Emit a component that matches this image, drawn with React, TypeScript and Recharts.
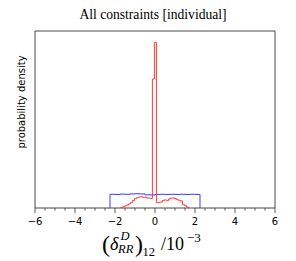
import { LineChart, Line, XAxis, YAxis, ReferenceArea } from "recharts";

// histogram bin edges (units of 1e-3) and densities
const RED_EDGES = [
  -1.73, -1.63, -1.53, -1.43, -1.33, -1.23, -1.13, -1.03, -0.93, -0.83, -0.73, -0.63,
  -0.53, -0.43, -0.33, -0.23, -0.13, -0.03, 0.07, 0.17, 0.27, 0.37, 0.47, 0.57, 0.67,
  0.77, 0.87, 0.97, 1.07, 1.17, 1.27, 1.37, 1.47, 1.57, 1.67,
];
const RED_VALUES = [
  0.3, 0.7, 1.2, 1.8, 2.4, 3.2, 4.4, 5.6, 6.2, 6.6, 6.8, 6.5, 6.6, 6.1, 6.0, 5.8, 78, 100,
  3.2, 3.4, 3.6, 4.6, 4.9, 4.4, 5.4, 6.0, 6.1, 5.7, 5.0, 4.7, 4.3, 2.0, 1.6, 0.6,
];

const BLUE_EDGES = [
  -2.25, -2.0, -1.75, -1.5, -1.25, -1.0, -0.75, -0.5, -0.25, 0, 0.25, 0.5, 0.75, 1.0,
  1.25, 1.5, 1.75, 2.0, 2.25,
];
const BLUE_VALUES = [
  8.3, 8.2, 8.4, 8.3, 8.5, 8.6, 8.5, 8.0, 7.9, 8.2, 8.3, 8.2, 8.3, 8.2, 8.3, 8.2, 8.3, 8.2,
];

const X_TICKS = [
  -6, -5.5, -5, -4.5, -4, -3.5, -3, -2.5, -2, -1.5, -1, -0.5, 0, 0.5, 1, 1.5, 2, 2.5, 3,
  3.5, 4, 4.5, 5, 5.5, 6,
];
const X_MAJOR = [-6, -4, -2, 0, 2, 4, 6];
const Y_MAX = 107;

// outline of a step histogram: up from zero at the first edge, down at the last
function stepOutline(edges: number[], values: number[]) {
  const pts = [{ x: edges[0], y: 0 }];
  values.forEach((v, i) => pts.push({ x: edges[i], y: v }));
  pts.push({ x: edges[edges.length - 1], y: 0 });
  return pts;
}

const blueData = stepOutline(BLUE_EDGES, BLUE_VALUES);
const redData = stepOutline(RED_EDGES, RED_VALUES);

const fmt = (v: number) => (v < 0 ? `\u2212${-v}` : `${v}`);

function XTick(props: any) {
  const { x, y, payload } = props;
  const major = X_MAJOR.includes(payload.value);
  return (
    <g>
      <line x1={x} x2={x} y1={y} y2={y + (major ? 5 : 2.5)} stroke="#333" strokeWidth={0.8} />
      {major && (
        <text x={x} y={y + 17} textAnchor="middle" fontFamily="DejaVu Sans" fontSize={10} fill="#000">
          {fmt(payload.value)}
        </text>
      )}
    </g>
  );
}

const serif = "Liberation Serif";

export default function App() {
  return (
    <div style={{ position: "absolute", left: 0, top: 0, width: 296, height: 261, background: "#fff" }}>
      <LineChart width={296} height={261} margin={{ top: 31, right: 21, bottom: 0, left: 35 }}>
        <XAxis
          dataKey="x"
          type="number"
          domain={[-6, 6]}
          ticks={X_TICKS}
          interval={0}
          height={53}
          axisLine={false}
          tickLine={false}
          tickSize={0}
          tickMargin={0}
          tick={<XTick />}
          allowDataOverflow
        />
        <YAxis type="number" domain={[0, Y_MAX]} hide allowDataOverflow />
        <Line
          data={blueData}
          dataKey="y"
          type="stepAfter"
          stroke="#3a3aff"
          strokeWidth={1}
          dot={false}
          activeDot={false}
          isAnimationActive={false}
        />
        <Line
          data={redData}
          dataKey="y"
          type="stepAfter"
          stroke="#ff3a3a"
          strokeWidth={1}
          dot={false}
          activeDot={false}
          isAnimationActive={false}
        />
        <ReferenceArea x1={-6} x2={6} y1={0} y2={Y_MAX} fill="none" stroke="#333" strokeWidth={0.9} />
      </LineChart>
      <svg width={296} height={261} style={{ position: "absolute", left: 0, top: 0, pointerEvents: "none" }}>
        <text x={153} y={18.5} textAnchor="middle" fontFamily={serif} fontSize={13.6} fill="#000">
          All constraints [individual]
        </text>
        <text
          transform="translate(24.5,102) rotate(-90)"
          textAnchor="middle"
          fontFamily="DejaVu Sans"
          fontSize={10}
          fill="#000"
        >
          probability density
        </text>
        <text fontFamily={serif} fill="#000">
          <tspan x={102} y={252} fontSize={24}>(</tspan>
          <tspan x={110} y={250} fontSize={18} fontStyle="italic">δ</tspan>
          <tspan x={120.5} y={240} fontSize={12.5} fontStyle="italic">D</tspan>
          <tspan x={118} y={252.5} fontSize={12.5} fontStyle="italic">RR</tspan>
          <tspan x={135} y={252} fontSize={24}>)</tspan>
          <tspan x={142.5} y={256} fontSize={12.5}>12</tspan>
          <tspan x={161} y={250} fontSize={18}>/10</tspan>
          <tspan x={187} y={242} fontSize={13}>−3</tspan>
        </text>
      </svg>
    </div>
  );
}
